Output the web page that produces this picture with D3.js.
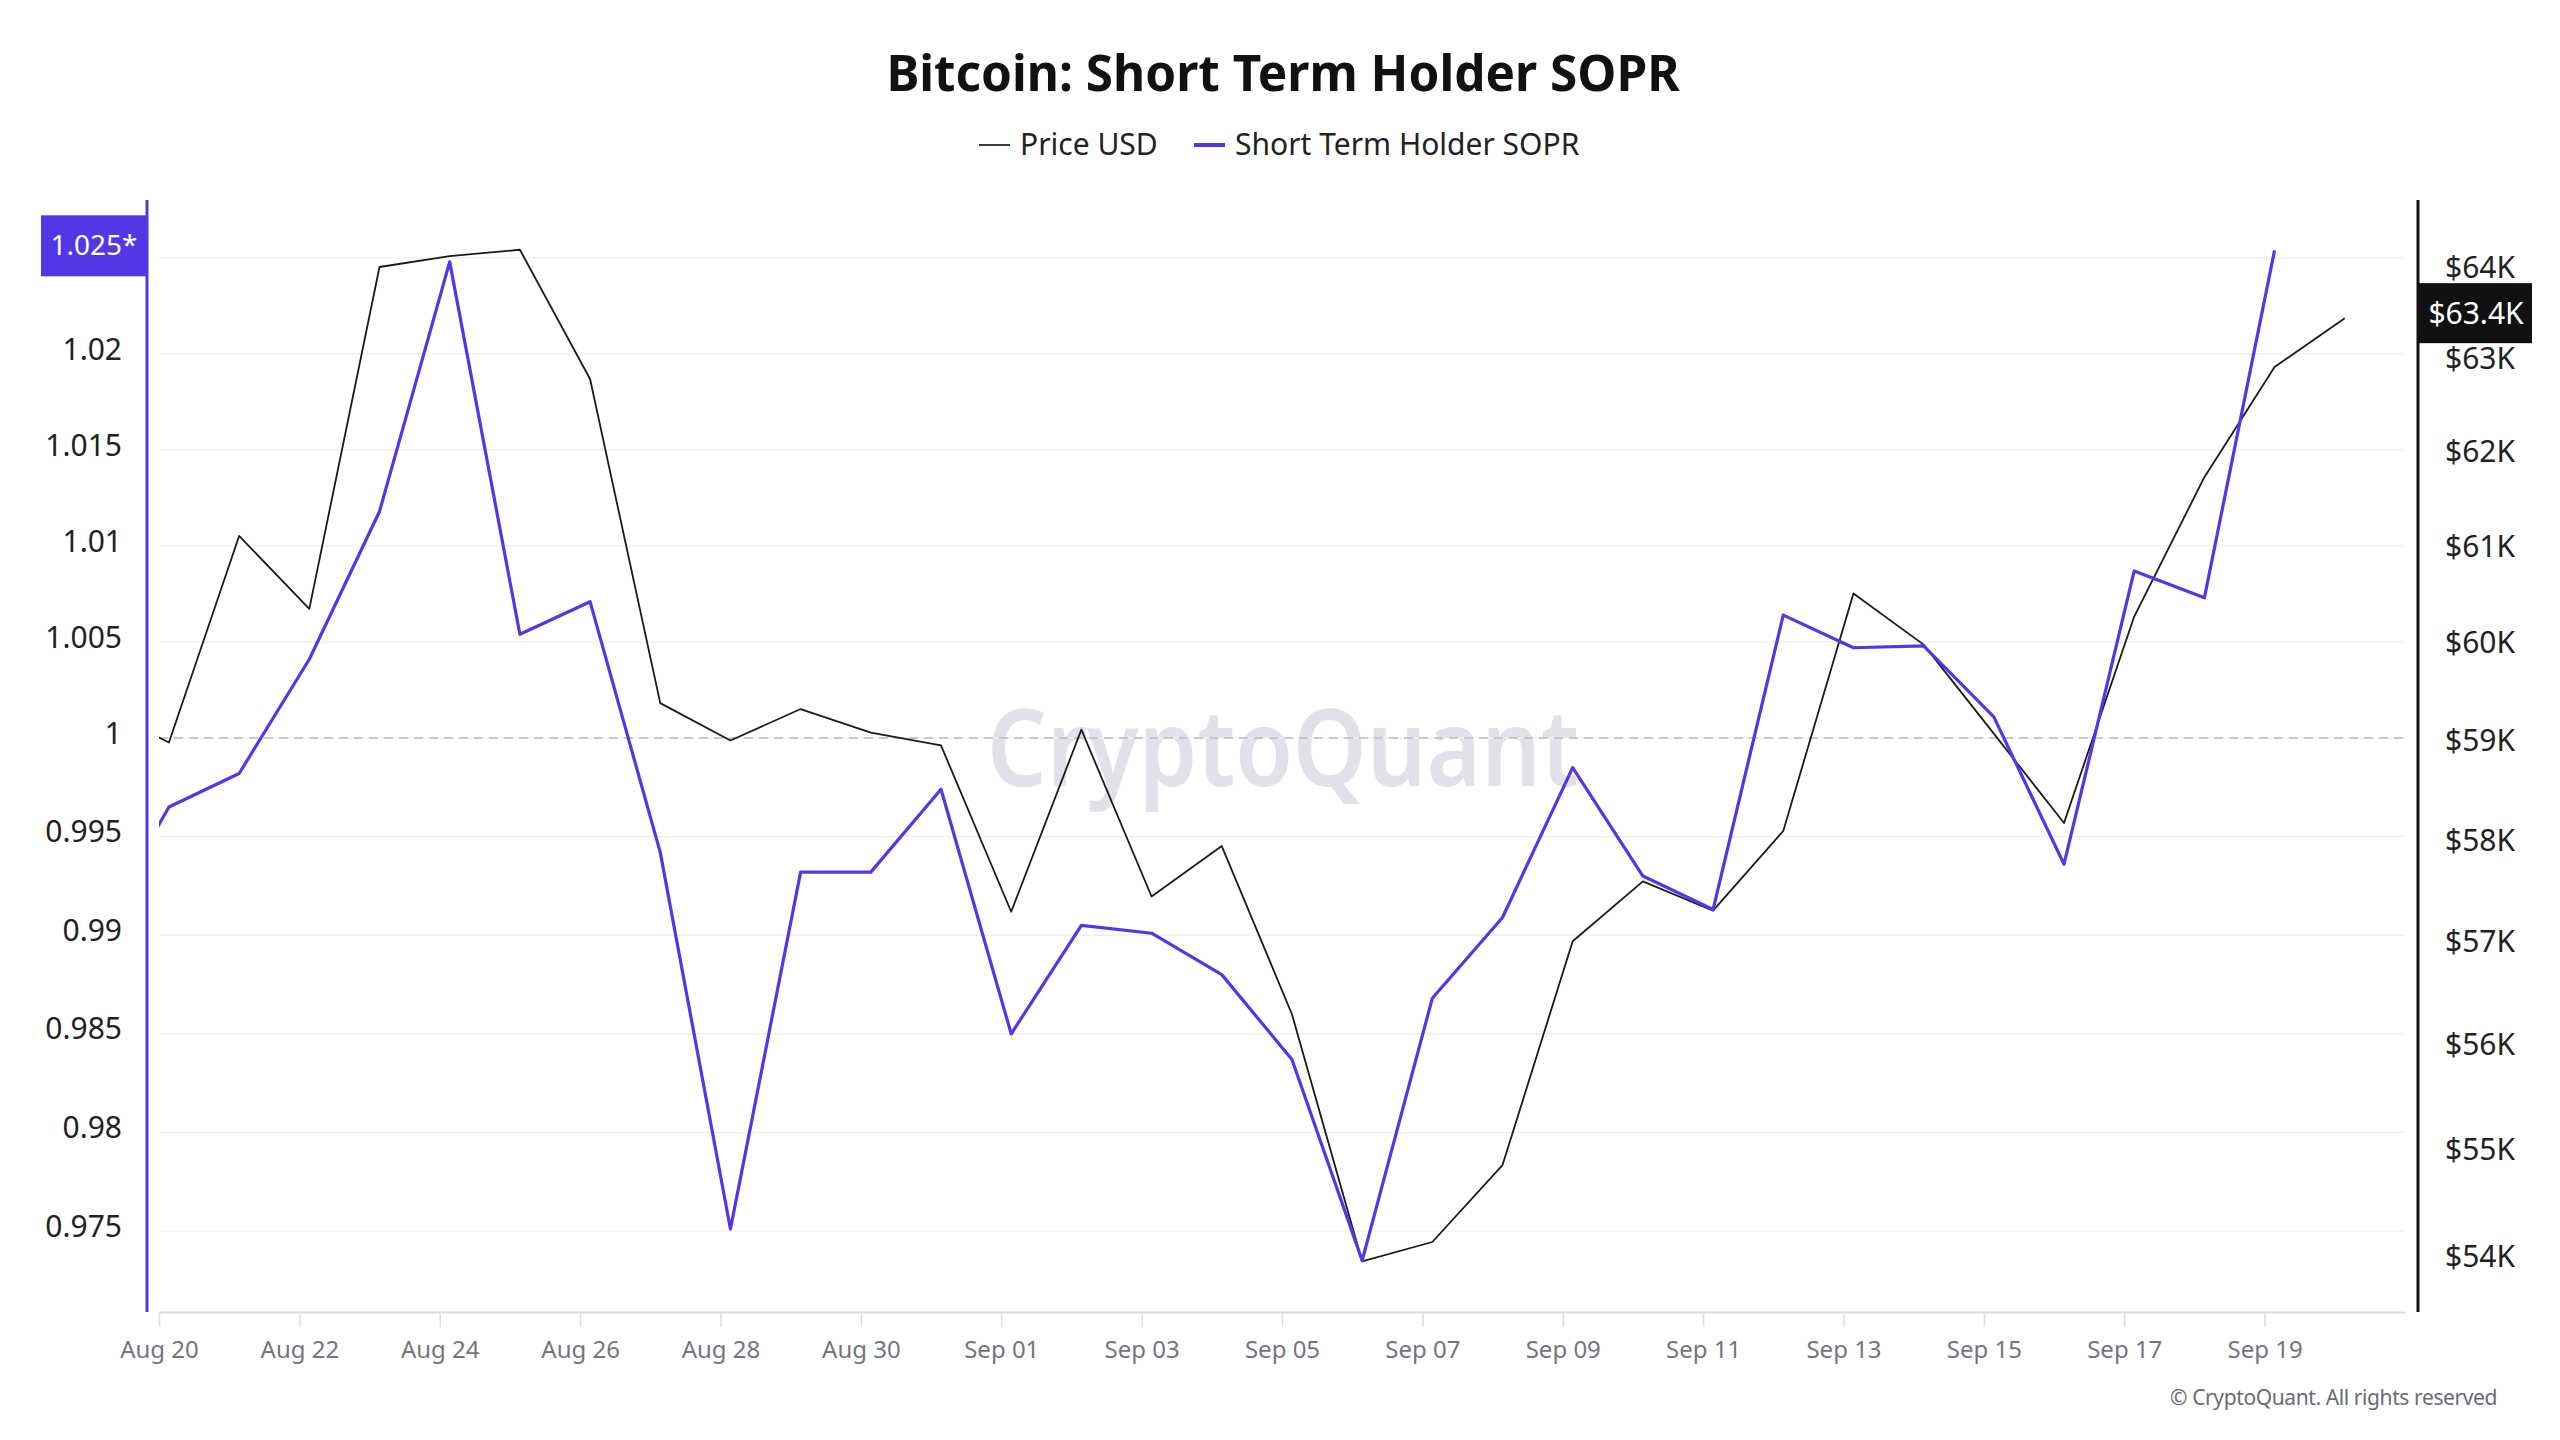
<!DOCTYPE html>
<html>
<head>
<meta charset="utf-8">
<title>Bitcoin: Short Term Holder SOPR</title>
<script src="https://cdn.jsdelivr.net/npm/d3@7"></script>
<style>
    body { margin: 0; background: #ffffff; }
    svg { display: block; font-family: "Noto Sans", "Open Sans", sans-serif; }
</style>
</head>
<body>
<div class="canvas"></div>
<script>
// Data (daily, Aug 19 is only the clipped lead-in)
const dates = [
    "2024-08-19", "2024-08-20", "2024-08-21", "2024-08-22", "2024-08-23", "2024-08-24",
    "2024-08-25", "2024-08-26", "2024-08-27", "2024-08-28", "2024-08-29", "2024-08-30",
    "2024-08-31", "2024-09-01", "2024-09-02", "2024-09-03", "2024-09-04", "2024-09-05",
    "2024-09-06", "2024-09-07", "2024-09-08", "2024-09-09", "2024-09-10", "2024-09-11",
    "2024-09-12", "2024-09-13", "2024-09-14", "2024-09-15", "2024-09-16", "2024-09-17",
    "2024-09-18", "2024-09-19", "2024-09-20"
];
const sopr = [
    0.9902, 0.9965, 0.9982, 1.0041, 1.0118, 1.0248,
    1.0054, 1.0071, 0.9942, 0.9751, 0.9932, 0.9932,
    0.9974, 0.9850, 0.9905, 0.9901, 0.9880, 0.9837,
    0.9735, 0.9868, 0.9909, 0.9985, 0.9930, 0.9913,
    1.0064, 1.0047, 1.0048, 1.0011, 0.9936, 1.0087,
    1.0073, 1.0254, null
];
const priceUsd = [
    59340, 58980, 61110, 60350, 64000, 64120,
    64190, 62780, 59380, 59000, 59320, 59080,
    58950, 57290, 59110, 57440, 57940, 56290,
    53950, 54130, 54850, 57000, 57590, 57300,
    58090, 60510, 59980, 59070, 58170, 60270,
    61730, 62910, 63440
];
const soprTicks = [0.975, 0.98, 0.985, 0.99, 0.995, 1, 1.005, 1.01, 1.015, 1.02, 1.025];
const priceTicks = [54000, 55000, 56000, 57000, 58000, 59000, 60000, 61000, 62000, 63000, 64000];
const seriesNames = ["Price USD", "Short Term Holder SOPR"];

// Step 1: graph style
const width = 2560, height = 1440;
const purple = "#5137e6";
const margin = { top: 200, right: 2405, bottom: 1312, left: 159 };
const sampleHours = 3.4; // daily samples sit a little after the midnight tick
const labelLift = -5;

const svg = d3.select(".canvas")
    .append("svg")
    .attr("width", width)
    .attr("height", height);

const parse = d3.utcParse("%Y-%m-%d");
const data = dates.map((d, i) => ({
    date: d3.utcMinute.offset(parse(d), sampleHours * 60),
    sopr: sopr[i],
    price: priceUsd[i]
}));

// Scales
const x = d3.scaleUtc()
    .domain([parse("2024-08-20"), parse("2024-09-21")])
    .range([margin.left, margin.right]);
// the source picture spaces the SOPR grid a touch wider below 1 than above it
const y = d3.scaleLinear()
    .domain([0.975, 1, 1.025])
    .range([1231, 738, 258]);
const yPrice = d3.scaleLog()
    .domain([54000, 64000])
    .range([1256, 267]);

// Title and legend
svg.append("text")
    .attr("x", 1283).attr("y", 91)
    .attr("text-anchor", "middle")
    .attr("font-size", 49.5).attr("font-weight", 700)
    .attr("fill", "#111")
    .text("Bitcoin: Short Term Holder SOPR");

const legend = svg.append("g");
const legendItems = [
    { name: seriesNames[0], colour: "#222", w: 1.8, x: 979 },
    { name: seriesNames[1], colour: purple, w: 4, x: 1194 }
];
legendItems.forEach(item => {
    legend.append("line")
        .attr("x1", item.x).attr("x2", item.x + 31)
        .attr("y1", 145).attr("y2", 145)
        .attr("stroke", item.colour).attr("stroke-width", item.w);
    legend.append("text")
        .attr("x", item.x + 41).attr("y", 155)
        .attr("font-size", 30).attr("fill", "#222")
        .text(item.name);
});

// Watermark
svg.append("text")
    .attr("x", 1283).attr("y", 786)
    .attr("text-anchor", "middle")
    .attr("font-size", 106).attr("font-weight", 600)
    .attr("textLength", 592).attr("lengthAdjust", "spacingAndGlyphs")
    .attr("fill", "#e2e0e9")
    .text("CryptoQuant");

// Gridlines from the SOPR ticks
svg.append("g")
    .selectAll("line")
    .data(soprTicks)
    .enter().append("line")
    .attr("x1", margin.left).attr("x2", margin.right)
    .attr("y1", d => y(d)).attr("y2", d => y(d))
    .attr("stroke", "#f0f0f3").attr("stroke-width", 1.5);

// Reference line at 1
svg.append("line")
    .attr("x1", margin.left).attr("x2", margin.right)
    .attr("y1", y(1)).attr("y2", y(1))
    .attr("stroke", "#b9b9c4").attr("stroke-width", 1.6)
    .attr("stroke-dasharray", "9,6");

// x axis
const xAxis = d3.axisBottom(x)
    .tickValues(d3.utcDay.range(parse("2024-08-20"), parse("2024-09-20"), 2))
    .tickFormat(d3.utcFormat("%b %d"))
    .tickSize(15)
    .tickSizeOuter(0)
    .tickPadding(14);
const xAxisGroup = svg.append("g")
    .attr("transform", `translate(0, ${margin.bottom})`)
    .call(xAxis);
xAxisGroup.select(".domain").attr("stroke", "#dcdce4").attr("stroke-width", 2);
xAxisGroup.selectAll(".tick line").attr("stroke", "#dcdce4").attr("stroke-width", 1.5);
xAxisGroup.selectAll(".tick text")
    .attr("font-size", 24).attr("fill", "#74747f")
    .attr("font-family", "Noto Sans, sans-serif");

// Left axis (SOPR)
svg.append("line")
    .attr("x1", 147).attr("x2", 147)
    .attr("y1", margin.top).attr("y2", margin.bottom)
    .attr("stroke", purple).attr("stroke-width", 3);
svg.append("g")
    .selectAll("text")
    .data(soprTicks.filter(d => d < 1.025))
    .enter().append("text")
    .attr("x", 122)
    .attr("y", d => y(d) + labelLift)
    .attr("dy", "0.35em")
    .attr("text-anchor", "end")
    .attr("font-size", 30).attr("fill", "#222")
    .text(d => String(+d.toFixed(3)));

// Right axis (price, log)
svg.append("line")
    .attr("x1", 2418).attr("x2", 2418)
    .attr("y1", margin.top).attr("y2", margin.bottom)
    .attr("stroke", "#111").attr("stroke-width", 3);
svg.append("g")
    .selectAll("text")
    .data(priceTicks)
    .enter().append("text")
    .attr("x", 2445)
    .attr("y", d => yPrice(d))
    .attr("dy", "0.35em")
    .attr("font-size", 30).attr("fill", "#222")
    .text(d => `$${d / 1000}K`);

// Lines, clipped to the plot
svg.append("clipPath").attr("id", "plot-clip")
    .append("rect")
    .attr("x", margin.left).attr("y", margin.top)
    .attr("width", margin.right - margin.left)
    .attr("height", margin.bottom - margin.top);

const plot = svg.append("g").attr("clip-path", "url(#plot-clip)");

const priceLine = d3.line()
    .x(d => x(d.date))
    .y(d => yPrice(d.price));
const soprLine = d3.line()
    .defined(d => d.sopr !== null)
    .x(d => x(d.date))
    .y(d => y(d.sopr));

plot.append("path")
    .datum(data)
    .attr("d", priceLine)
    .attr("fill", "none")
    .attr("stroke", "#1a1a1a").attr("stroke-width", 1.8)
    .attr("stroke-linejoin", "round");
plot.append("path")
    .datum(data)
    .attr("d", soprLine)
    .attr("fill", "none")
    .attr("stroke", purple).attr("stroke-width", 3.2)
    .attr("stroke-linejoin", "round");

// Last value badges
const lastSopr = data.filter(d => d.sopr !== null).pop();
const lastPrice = data[data.length - 1];

const soprBadge = svg.append("g")
    .attr("transform", `translate(0, ${y(lastSopr.sopr) + labelLift})`);
soprBadge.append("rect")
    .attr("x", 41).attr("y", -30)
    .attr("width", 106).attr("height", 61)
    .attr("fill", purple);
soprBadge.append("text")
    .attr("x", 94).attr("dy", "0.35em")
    .attr("text-anchor", "middle")
    .attr("font-size", 28).attr("fill", "#fff")
    .text(`${lastSopr.sopr.toFixed(3)}*`);

const priceBadge = svg.append("g")
    .attr("transform", `translate(0, ${yPrice(lastPrice.price) + labelLift})`);
priceBadge.append("rect")
    .attr("x", 2419).attr("y", -30)
    .attr("width", 113).attr("height", 60)
    .attr("fill", "#111");
priceBadge.append("text")
    .attr("x", 2476).attr("dy", "0.35em")
    .attr("text-anchor", "middle")
    .attr("font-size", 30).attr("fill", "#fff")
    .text(`$${(lastPrice.price / 1000).toFixed(1)}K`);

// Footer
svg.append("text")
    .attr("x", 2497).attr("y", 1405)
    .attr("text-anchor", "end")
    .attr("font-size", 21).attr("fill", "#6b6b74")
    .attr("letter-spacing", -0.4)
    .text("© CryptoQuant. All rights reserved");
</script>
</body>
</html>
